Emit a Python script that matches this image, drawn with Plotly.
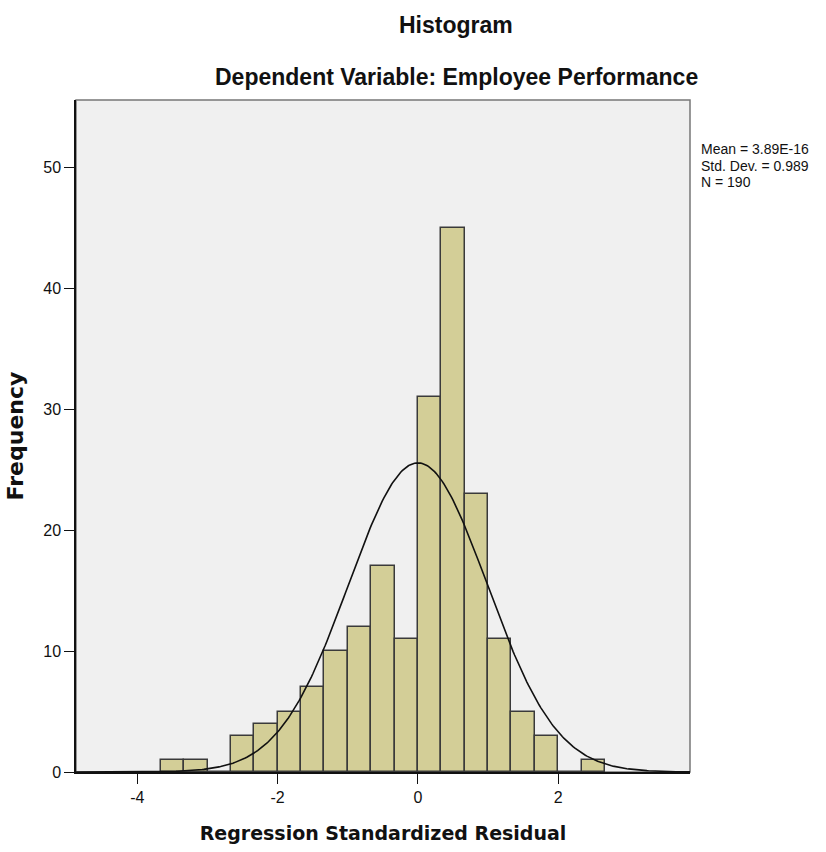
import numpy as np
import plotly.graph_objects as go

# ---- data ----
bin_width = 1.0 / 3.0
bin_left_edges = [k / 3.0 for k in range(-11, 8)]
counts = [1, 1, 0, 3, 4, 5, 7, 10, 12, 17, 11, 31, 45, 23, 11, 5, 3, 0, 1]
stat_mean = 3.89e-16
stat_sd = 0.989
stat_n = 190
stats_lines = ["Mean = 3.89E-16", "Std. Dev. = 0.989", "N = 190"]
x_ticks = [-4, -2, 0, 2]
x_tick_labels = ["-4", "-2", "0", "2"]
y_ticks = [0, 10, 20, 30, 40, 50]

x_range = [-4.875, 3.88]
y_range = [0, 55.54]

centers = [e + bin_width / 2 for e in bin_left_edges]

fig = go.Figure()
fig.add_trace(go.Bar(
    x=centers, y=counts, width=bin_width,
    marker=dict(color="#d3ce97", line=dict(color="#3a3a3a", width=1.5)),
    showlegend=False, hoverinfo="x+y",
))

xc = np.linspace(x_range[0], x_range[1], 400)
yc = stat_n * bin_width / (stat_sd * np.sqrt(2 * np.pi)) * np.exp(-0.5 * ((xc - stat_mean) / stat_sd) ** 2)
fig.add_trace(go.Scatter(x=xc, y=yc, mode="lines",
                         line=dict(color="#111111", width=1.6),
                         showlegend=False, hoverinfo="skip"))

PW, PH, L, T = 614, 672, 76, 100
stat_annots = [
    dict(text=s, xref="paper", yref="paper", x=1 + (699 - 690) / PW,
         y=1 - (149 + 16.5 * i - T) / PH, showarrow=False, xanchor="left", yanchor="middle",
         font=dict(size=14, family="Liberation Sans, Arial"))
    for i, s in enumerate(stats_lines)
]

fig.update_layout(
    width=826, height=852,
    margin=dict(l=L, r=136, t=T, b=80),
    paper_bgcolor="white", plot_bgcolor="#f0f0f0",
    bargap=0,
    font=dict(family="Liberation Sans, Arial", size=16, color="#111111"),
    xaxis=dict(range=x_range, tickvals=x_ticks, ticktext=x_tick_labels,
               ticks="outside", ticklen=10,
               tickcolor="#111111", showgrid=False, zeroline=False,
               showline=True, linecolor="#111111", linewidth=1.5,
               tickfont=dict(size=16),
               title=dict(text="<b>Regression Standardized Residual</b>",
                          font=dict(family="DejaVu Sans", size=19), standoff=22)),
    yaxis=dict(range=y_range, tickvals=y_ticks, ticks="outside", ticklen=10,
               tickcolor="#111111", showgrid=False, zeroline=False,
               showline=True, linecolor="#111111", linewidth=1.5,
               tickfont=dict(size=16),
               title=dict(text="<b>Frequency</b>",
                          font=dict(family="DejaVu Sans", size=22), standoff=14)),
    shapes=[dict(type="rect", xref="paper", yref="paper", x0=0, x1=1, y0=0, y1=1,
                 line=dict(color="#777777", width=1.5), layer="below")],
    annotations=[
        dict(text="<b>Histogram</b>", xref="paper", yref="paper",
             x=(456 - L) / PW, y=1 + (T - 25) / PH, showarrow=False,
             font=dict(size=23, family="Liberation Sans, Arial"), xanchor="center", yanchor="middle"),
        dict(text="<b>Dependent Variable: Employee Performance</b>", xref="paper", yref="paper",
             x=(456 - L) / PW, y=1 + (T - 77) / PH, showarrow=False,
             font=dict(size=23, family="Liberation Sans, Arial"), xanchor="center", yanchor="middle"),
    ] + stat_annots,
)

fig.write_html("out.html")
